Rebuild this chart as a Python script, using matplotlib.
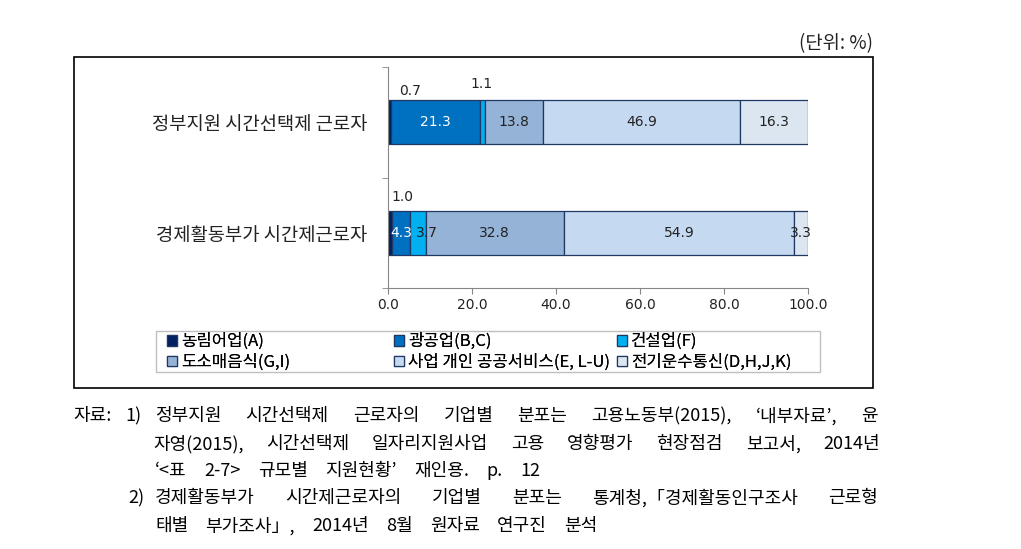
import matplotlib
matplotlib.use('Agg')
import matplotlib.pyplot as plt
from matplotlib.patches import Rectangle
import numpy as np

plt.rcParams['font.family'] = ['Noto Sans CJK KR', 'DejaVu Sans']

groups = ['경제활동부가 시간제근로자', '정부지원 시간선택제 근로자']
sectors = ['농림어업(A)', '광공업(B,C)', '건설업(F)', '도소매음식(G,I)',
           '사업 개인 공공서비스(E, L-U)', '전기운수통신(D,H,J,K)']
values = np.array([
    [1.0, 4.3, 3.7, 32.8, 54.9, 3.3],    # 경제활동부가
    [0.7, 21.3, 1.1, 13.8, 46.9, 16.3],  # 정부지원
])
colors = ['#002060', '#0070C0', '#00B0F0', '#95B3D7', '#C5D9F1', '#DCE6F1']
txt_colors = ['#222222', 'white', '#222222', '#222222', '#222222', '#222222']
xticks = [0, 20, 40, 60, 80, 100]

# small values are labelled above the bar: (group, sector) -> pixel offset
small_off = {(1, 0): (21, 31), (1, 2): (-1, 38), (0, 0): (12, 36)}
inside_off = {(0, 2): 9}

# footnote lines: (x start, x end, y, text)
notes = [
    (155, 878, 416, '정부지원 시간선택제 근로자의 기업별 분포는 고용노동부(2015), ‘내부자료’, 윤'),
    (153, 880, 444, '자영(2015), 시간선택제 일자리지원사업 고용 영향평가 현장점검 보고서, 2014년'),
    (155, 540, 471, '‘<표 2-7> 규모별 지원현황’ 재인용. p. 12'),
    (155, 878, 498, '경제활동부가 시간제근로자의 기업별 분포는 통계청,「경제활동인구조사 근로형'),
    (155, 597, 526, '태별 부가조사」, 2014년 8월 원자료 연구진 분석'),
]

W, H = 1021, 549
fig = plt.figure(figsize=(W / 100, H / 100), dpi=100)

# outer frame around the chart
fig.patches.append(Rectangle((74 / W, 1 - 388 / H), (873 - 74) / W, (388 - 57) / H,
                             transform=fig.transFigure, fill=False,
                             edgecolor='black', linewidth=1.2))

ax = fig.add_axes([388 / W, 1 - 288 / H, (808 - 388) / W, (288 - 67) / H])

y = np.arange(len(groups))
left = np.zeros(len(groups))
for j in range(len(sectors)):
    ax.barh(y, values[:, j], left=left, height=0.4, color=colors[j],
            edgecolor='#1F3864', linewidth=0.9, label=sectors[j])
    for i in range(len(groups)):
        v = values[i, j]
        cx = left[i] + v / 2
        if (i, j) in small_off:
            ax.annotate('%.1f' % v, (cx, y[i]), xytext=small_off[(i, j)],
                        textcoords='offset pixels', ha='center', va='center',
                        fontsize=10, color='#222222', family='DejaVu Sans')
        else:
            ax.annotate('%.1f' % v, (cx, y[i]), xytext=(inside_off.get((i, j), 0), 0),
                        textcoords='offset pixels', ha='center', va='center',
                        fontsize=10, color=txt_colors[j], family='DejaVu Sans')
    left += values[:, j]

ax.set_xlim(0, 100)
ax.set_ylim(-0.5, 1.5)
ax.set_xticks(xticks)
ax.set_xticklabels(['%.1f' % t for t in xticks], fontsize=10, color='#222222',
                   family='DejaVu Sans')
ax.set_yticks(y)
ax.set_yticklabels(groups, fontsize=13.5, color='#222222')
ax.tick_params(axis='y', length=0, pad=15)
ax.set_yticks([-0.5, 0.5, 1.5], minor=True)
ax.tick_params(axis='y', which='minor', length=4, color='#868686')
ax.tick_params(axis='x', length=4, color='#868686', pad=3)
for s in ['top', 'right']:
    ax.spines[s].set_visible(False)
for s in ['left', 'bottom']:
    ax.spines[s].set_color('#868686')

# legend: three columns of two entries, in a light grey box
fig.patches.append(Rectangle((156 / W, 1 - 372 / H), (820 - 156) / W, (372 - 331) / H,
                             transform=fig.transFigure, fill=False,
                             edgecolor='#BFBFBF', linewidth=1))
handles, labels = ax.get_legend_handles_labels()
for c, xpix in enumerate([167, 394, 617]):
    idx = [c, c + 3]
    leg = fig.legend([handles[k] for k in idx], [labels[k] for k in idx],
                     loc='upper left', bbox_to_anchor=(xpix / W, 1 - 333 / H),
                     frameon=False, fontsize=12, handlelength=0.6,
                     handleheight=0.6, handletextpad=0.25, borderpad=0,
                     labelspacing=0.2, borderaxespad=0)
    fig.add_artist(leg)

fig.text(873 / W, 1 - 44 / H, '(단위: %)', ha='right', va='center',
         fontsize=13.5, color='#222222')

# footnotes, words spread to the line width like the justified original
fig.text(73 / W, 1 - 416 / H, '자료:', ha='left', va='center', fontsize=13)
fig.text(125 / W, 1 - 416 / H, '1)', ha='left', va='center', fontsize=13)
fig.text(128 / W, 1 - 498 / H, '2)', ha='left', va='center', fontsize=13)

renderer = fig.canvas.get_renderer()
for x0, x1, yy, line in notes:
    words = line.split(' ')
    texts = [fig.text(0, 1 - yy / H, w, ha='left', va='center', fontsize=13)
             for w in words]
    widths = [t.get_window_extent(renderer).width for t in texts]
    gap = (x1 - x0 - sum(widths)) / (len(words) - 1)
    x = x0
    for t, w in zip(texts, widths):
        t.set_x(x / W)
        x += w + gap

fig.savefig('out.png', dpi=100)
